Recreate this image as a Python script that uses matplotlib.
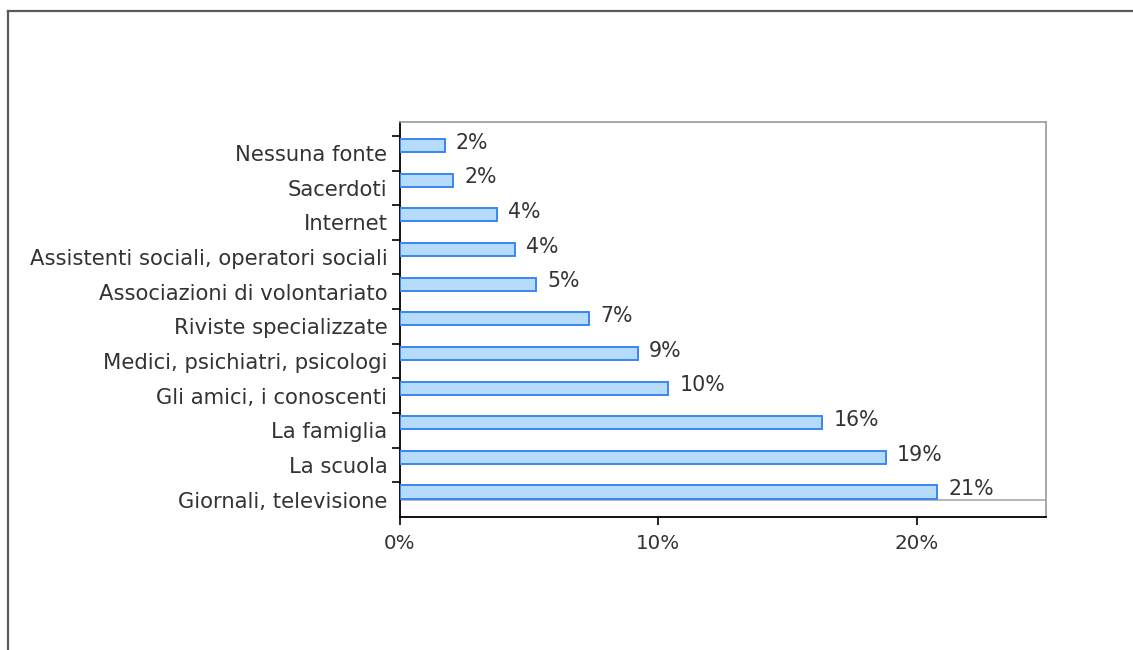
import matplotlib.pyplot as plt
from matplotlib.lines import Line2D
from matplotlib.ticker import FixedLocator, FuncFormatter
import numpy as np

# sources of information, listed top to bottom
fonti = [
    "Nessuna fonte",
    "Sacerdoti",
    "Internet",
    "Assistenti sociali, operatori sociali",
    "Associazioni di volontariato",
    "Riviste specializzate",
    "Medici, psichiatri, psicologi",
    "Gli amici, i conoscenti",
    "La famiglia",
    "La scuola",
    "Giornali, televisione",
]
percentuali = [1.73, 2.07, 3.76, 4.46, 5.28, 7.32, 9.2, 10.39, 16.35, 18.8, 20.8]
x_ticks = [0, 10, 20]

testo = "#333333"
plt.rcParams["font.family"] = "DejaVu Sans"

fig = plt.figure(figsize=(11.33, 6.5), dpi=100)
ax = fig.add_axes([0.353, 0.2046, 0.5702, 0.6077])

n = len(fonti)
pos = np.arange(n)[::-1]
bar_pos = pos + 0.22

bars = ax.barh(bar_pos, percentuali, height=0.38, color="#b6dcfc",
               edgecolor="#3a86f0", linewidth=1.4, zorder=3)

for b, v in zip(bars, percentuali):
    ax.annotate("%.0f%%" % v, (b.get_width(), b.get_y() + b.get_height() / 2),
                xytext=(8, 2), textcoords="offset points", va="center",
                ha="left", fontsize=14.8, color=testo)

ax.axhline(0, color="#aaaaaa", lw=1.2, zorder=2)

ax.set_xlim(0, 25)
ax.set_ylim(-0.5, 10.9)

ax.set_yticks(pos)
ax.set_yticklabels(fonti)
ax.yaxis.set_minor_locator(FixedLocator(np.arange(n) + 0.5))
ax.tick_params(axis="y", which="major", length=0, pad=9,
               labelsize=15.2, labelcolor=testo)
ax.tick_params(axis="y", which="minor", length=6, width=1.2, color="black")

ax.xaxis.set_major_locator(FixedLocator(x_ticks))
ax.xaxis.set_major_formatter(FuncFormatter(lambda v, p: "%d%%" % v))
ax.tick_params(axis="x", length=6, width=1.2, pad=6,
               labelsize=14.3, labelcolor=testo)

for s in ("left", "bottom"):
    ax.spines[s].set_color("black")
    ax.spines[s].set_linewidth(1.3)
for s in ("top", "right"):
    ax.spines[s].set_color("#999999")
    ax.spines[s].set_linewidth(1.2)

# outer frame of the page
fig.add_artist(Line2D([0.007, 1.0], [0.9838, 0.9838], color="#5a5a5a",
                      lw=1.6, transform=fig.transFigure))
fig.add_artist(Line2D([0.0075, 0.0075], [0.0, 0.9838], color="#5a5a5a",
                      lw=1.6, transform=fig.transFigure))

fig.savefig("out.png", dpi=100)
